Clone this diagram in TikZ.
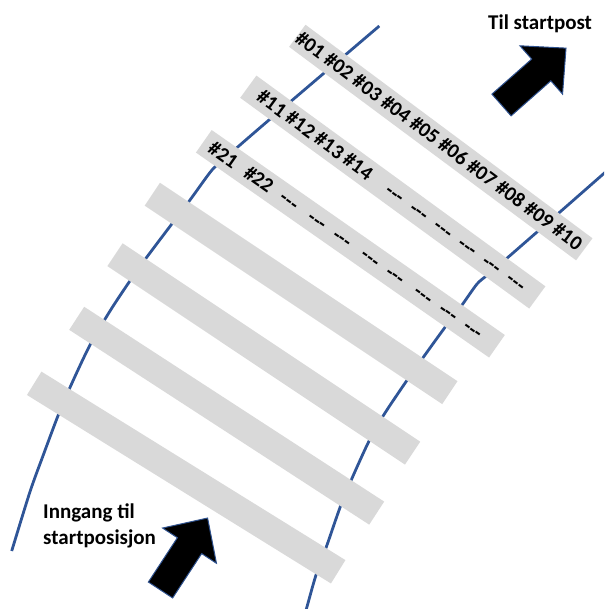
\documentclass[tikz,border=0pt]{standalone}
\usepackage{fontspec}
\setmainfont{Carlito}
\definecolor{curveblue}{RGB}{47,85,151}
\definecolor{bargray}{RGB}{217,217,217}
\definecolor{arrowedge}{RGB}{47,82,143}
\newcommand\dsh{\hbox{-}\hbox{-}\hbox{-}}
\newcommand\tokat[2]{\rlap{\hspace*{#1pt}\makebox[0pt]{#2}}}
\begin{document}
\begin{tikzpicture}[x=1pt,y=-1pt,
  curve/.style={draw=curveblue, line width=2.8pt},
  barfill/.style={fill=bargray},
  lbl/.style={font=\fontsize{20.5}{24}\selectfont\bfseries, inner sep=0pt, text=black},
  caption/.style={font=\fontsize{21}{26}\selectfont\bfseries, inner sep=0pt, anchor=base west},
  blockarrow/.style={fill=black, draw=arrowedge, line width=1pt, line join=miter}]
\useasboundingbox (0,0) rectangle (604,609);
\clip (0,0) rectangle (604,609);

% curves (behind the bars)
\draw[curve] plot[smooth, tension=0.45] coordinates {(379.3,26) (330,68) (262,126) (228,155.5) (212,170) (190,200) (168,229) (146.7,257.3) (128.3,283.3) (110,311) (90,345) (72,383) (58.3,415) (43.3,455) (30,491.7) (11.7,551)};
\draw[curve] plot[smooth, tension=0.45] coordinates {(614,164.6) (560.3,211.7) (508.7,256.7) (488,274.5) (477,284) (462,305) (444.7,327.7) (423.7,356.7) (406,381.7) (383.7,415) (368.7,441.7) (352,478.3) (340.3,506.7) (327,545) (316,575) (307,606.7) (303.5,619)};

% bar 1
\begin{scope}[shift={(297.3,35.8)},rotate=-36.65]
  \fill[barfill] (0,-13.75) rectangle (357.7,13.75);
  \node[lbl, anchor=base west, rotate=-36.65] (t1) at (0.5,6.5) {\#01 \#02 \#03 \#04 \#05 \#06 \#07 \#08 \#09 \#10};
\end{scope}
% bar 2
\begin{scope}[shift={(248.3,86.7)},rotate=-36.1]
  \fill[barfill] (0,-13.75) rectangle (357.7,13.75);
  \node[lbl, anchor=base west, rotate=-36.1] (t2) at (0,6.5)
    {\hbox to 342pt{\rlap{\hspace*{13.3pt}\#11 \#12 \#13 \#14}\tokat{181.3}{\dsh}\tokat{211.3}{\dsh}\tokat{241.3}{\dsh}\tokat{271.3}{\dsh}\tokat{301.3}{\dsh}\tokat{331.3}{\dsh}\hfil}};
\end{scope}
% bar 3
\begin{scope}[shift={(203.8,141.3)},rotate=-34.96]
  \fill[barfill] (0,-13.75) rectangle (357.7,13.75);
  \node[lbl, anchor=base west, rotate=-34.96] (t3) at (0,6.5)
    {\hbox to 339pt{\tokat{23.4}{\#21}\tokat{66.8}{\#22}\tokat{104.0}{\dsh}\tokat{138.4}{\dsh}\tokat{168.8}{\dsh}\tokat{203.4}{\dsh}\tokat{233.6}{\dsh}\tokat{267.9}{\dsh}\tokat{298.4}{\dsh}\tokat{328.3}{\dsh}\hfil}};
\end{scope}
% empty bars
\begin{scope}[shift={(152.3,194.2)},rotate=-33.7]
  \fill[barfill] (0,-13.75) rectangle (357.7,13.75);
\end{scope}
\begin{scope}[shift={(115,254.7)},rotate=-33.7]
  \fill[barfill] (0,-13.75) rectangle (357.7,13.75);
\end{scope}
\begin{scope}[shift={(76.7,318.3)},rotate=-33.0]
  \fill[barfill] (0,-13.75) rectangle (357.7,13.75);
\end{scope}
\begin{scope}[shift={(34.2,383.3)},rotate=-31.8]
  \fill[barfill] (0,-13.75) rectangle (357.7,13.75);
\end{scope}

% arrows
\begin{scope}[shift={(501.5,105)},rotate=41.4]
  \draw[blockarrow] (0,-14.5) -- (53,-14.5) -- (53,-32.2) -- (86,0) -- (53,32.2) -- (53,14.5) -- (0,14.5) -- cycle;
\end{scope}
\begin{scope}[shift={(160.5,590)},rotate=56.8]
  \draw[blockarrow] (0,-14.5) -- (53,-14.5) -- (53,-32.2) -- (86,0) -- (53,32.2) -- (53,14.5) -- (0,14.5) -- cycle;
\end{scope}

% captions
\node[caption] (top) at (488,30) {Til startpost};
\node[caption] (in1) at (43,518.3) {Inngang til};
\node[caption] (in2) at (43,544.3) {startposisjon};
\end{tikzpicture}
\end{document}
